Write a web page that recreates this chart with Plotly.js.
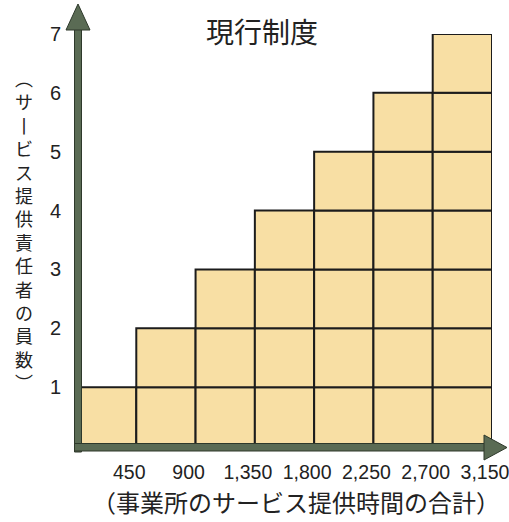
<!DOCTYPE html>
<html>
<head>
<meta charset="utf-8">
<script src="https://cdn.plot.ly/plotly-3.0.1.min.js"></script>
<style>html,body{margin:0;padding:0;background:#fff;}#chart{width:509px;height:522px;}</style>
</head>
<body>
<div id="chart"></div>
<script>
// ---- data ----
const columnEdges = [450, 900, 1350, 1800, 2250, 2700, 3150];
const tickLabels = ["450", "900", "1,350", "1,800", "2,250", "2,700", "3,150"];
const staffCounts = [1, 2, 3, 4, 5, 6, 7];
const yTicks = [1, 2, 3, 4, 5, 6, 7];
const chartTitle = "現行制度";
const xTitle = "（事業所のサービス提供時間の合計）";
const yTitleChars = ["︵","サ","丨","ビ","ス","提","供","責","任","者","の","員","数","︶"];

// ---- build cells (one square per staff member per column) ----
const step = 450;
const cx = [], cbase = [], cy = [];
staffCounts.forEach((n, i) => {
  for (let j = 0; j < n; j++) {
    cx.push(columnEdges[i] - step / 2);
    cbase.push(j);
    cy.push(1);
  }
});

const W = 509, H = 522;
const L = 77, R = 17, T = 34, B = 76;
const pw = W - L - R, ph = H - T - B;
const px = v => (v - L) / pw;          // pixel x -> paper
const py = v => (H - B - v) / ph;      // pixel y -> paper

const axisFill = '#5a6b54', axisEdge = '#2e392b';
const shapes = [
  {type:'rect', xref:'paper', yref:'paper', x0:px(74.5), x1:px(81.5), y0:py(452), y1:py(28),
   fillcolor:axisFill, line:{color:axisEdge, width:1}},
  {type:'rect', xref:'paper', yref:'paper', x0:px(74.5), x1:px(487), y0:py(451), y1:py(443.5),
   fillcolor:axisFill, line:{color:axisEdge, width:1}},
  {type:'path', xref:'paper', yref:'paper',
   path:`M ${px(78)} ${py(4)} L ${px(90)} ${py(30)} L ${px(66)} ${py(30)} Z`,
   fillcolor:axisFill, line:{color:axisEdge, width:1}},
  {type:'path', xref:'paper', yref:'paper',
   path:`M ${px(507)} ${py(447.5)} L ${px(484)} ${py(435)} L ${px(484)} ${py(460)} Z`,
   fillcolor:axisFill, line:{color:axisEdge, width:1}}
];

const annotations = [
  { // vertical (tategaki) y-axis title
    text: yTitleChars.join('<br>'), xref:'paper', yref:'paper', x: px(24), y: py(230),
    showarrow:false, xanchor:'center', yanchor:'middle', align:'center', borderpad:0,
    font:{family:'Noto Sans CJK JP', size:18, color:'#222'}
  },
  {
    text: xTitle, xref:'paper', yref:'paper', x: px(296), y: py(501),
    showarrow:false, xanchor:'center', yanchor:'middle',
    font:{family:'Noto Sans CJK JP', size:24, color:'#222'}
  }
];

const trace = {
  type:'bar', x: cx, y: cy, base: cbase, width: step,
  marker:{color:'#f8dfa4', line:{color:'#1c1c1c', width:2}},
  hoverinfo:'skip'
};

const layout = {
  width: W, height: H,
  margin:{l:L, r:R, t:T, b:B},
  paper_bgcolor:'#fff', plot_bgcolor:'#fff',
  showlegend:false,
  title:{text: chartTitle, x: 262 / W, xanchor:'center', y: 1 - 33 / H, yanchor:'middle', yref:'container',
         font:{family:'Noto Sans CJK JP', size:28, color:'#222'}},
  xaxis:{range:[0, 3150], tickmode:'array', tickvals: columnEdges, ticktext: tickLabels,
         tickangle:0, ticks:'', showgrid:false, zeroline:false, showline:false,
         ticklabelstandoff: 12, ticklabelshift: -7, ticklabeloverflow:'allow',
         tickfont:{family:'Liberation Sans', size:19.5, color:'#222'}},
  yaxis:{range:[0, 7], tickmode:'array', tickvals: yTicks, ticktext: yTicks.map(String),
         ticks:'', showgrid:false, zeroline:false, showline:false,
         ticklabelstandoff: 15,
         tickfont:{family:'Liberation Sans', size:20, color:'#222'}},
  shapes: shapes,
  annotations: annotations,
  bargap: 0
};

Plotly.newPlot('chart', [trace], layout, {staticPlot:true, displayModeBar:false});
</script>
</body>
</html>
